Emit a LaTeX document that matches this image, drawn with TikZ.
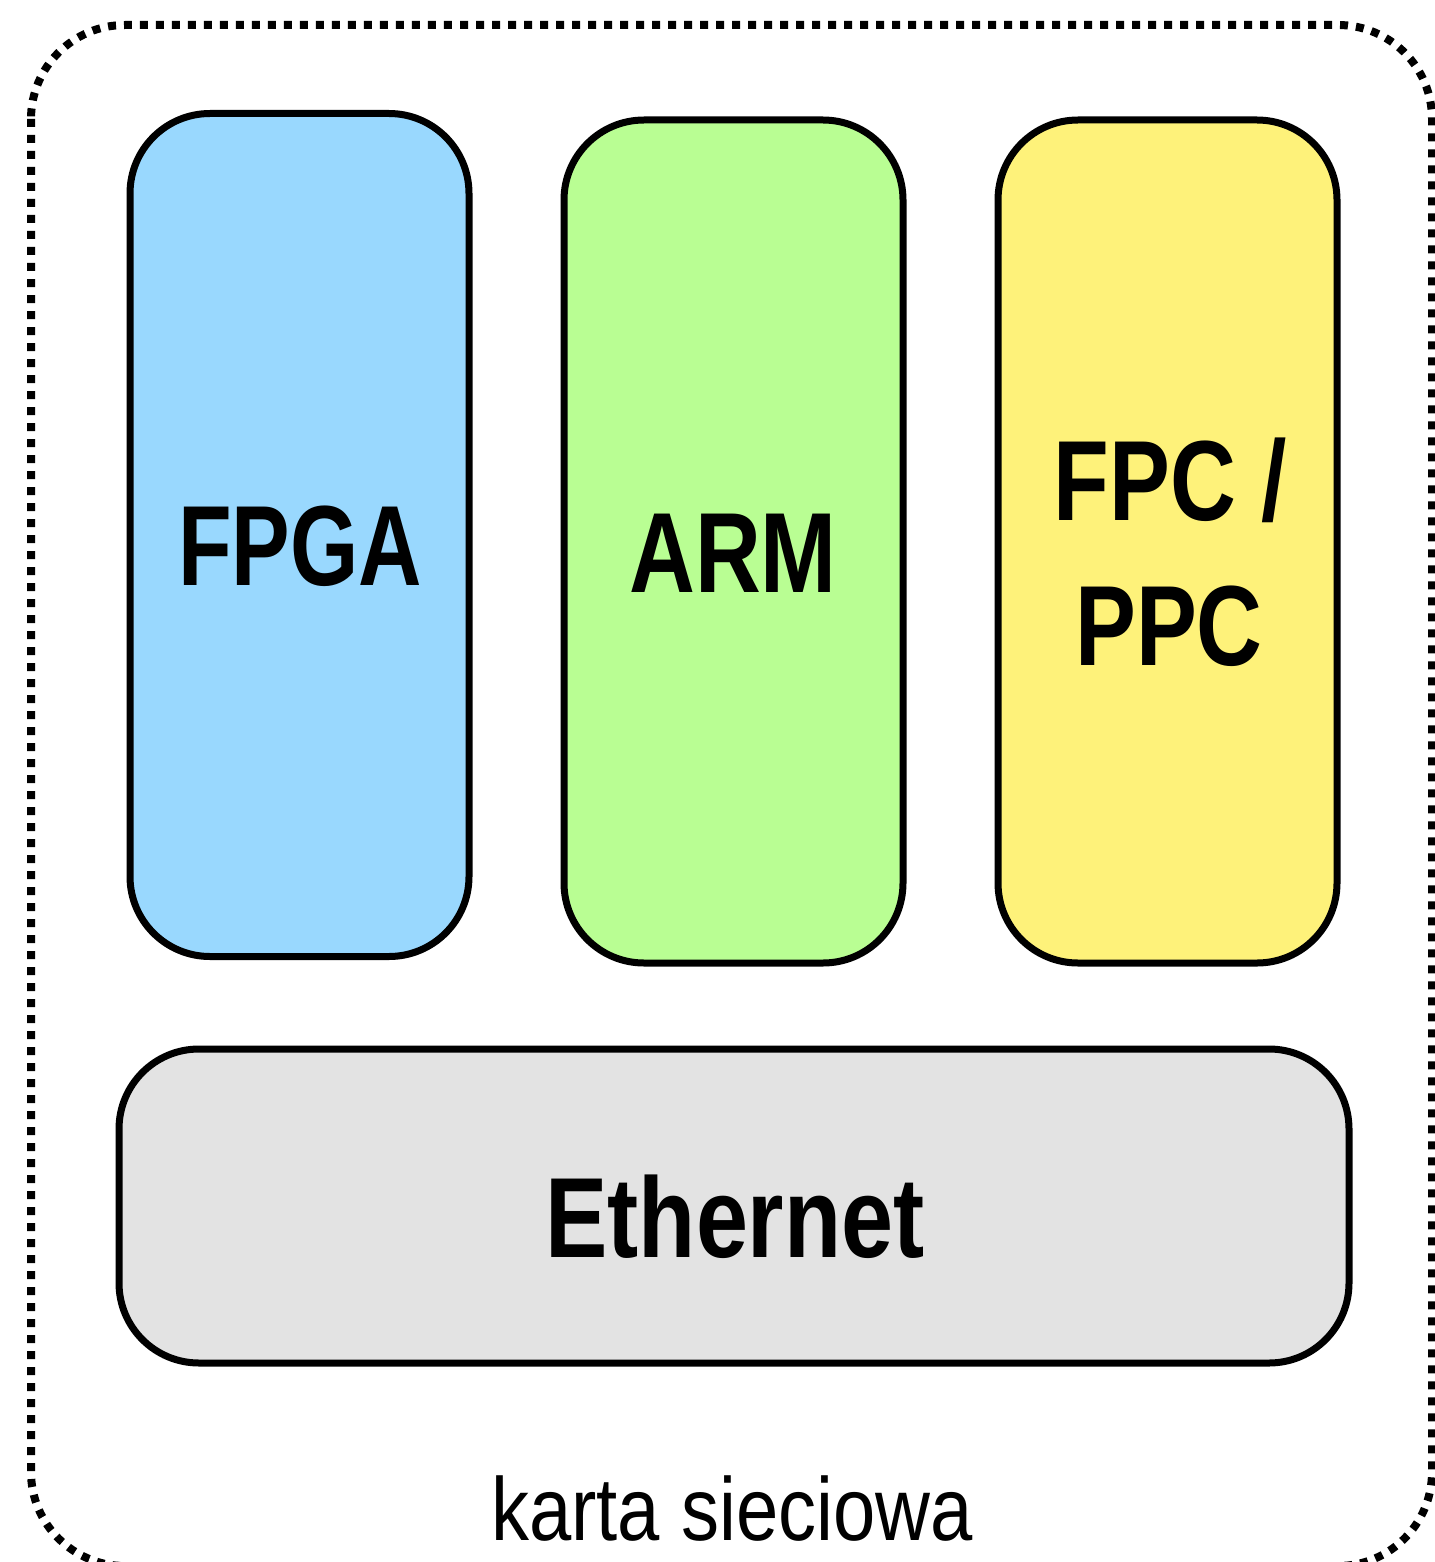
\documentclass[tikz,border=0pt]{standalone}
\usepackage{fontspec}
\setmainfont{Liberation Sans}
\newfontfamily\boldcond[FakeStretch=0.77]{Liberation Sans Bold}
\newfontfamily\boldmid[FakeStretch=0.80]{Liberation Sans Bold}
\newfontfamily\boldwide[FakeStretch=0.82]{Liberation Sans Bold}
\newfontfamily\regcond[FakeStretch=0.85]{Liberation Sans}
\definecolor{fpgacol}{HTML}{99D8FE}
\definecolor{armcol}{HTML}{B9FE93}
\definecolor{fpccol}{HTML}{FEF27A}
\definecolor{ethcol}{HTML}{E3E3E3}
\tikzset{
  unit/.style={draw=black, line width=3.5pt, rounded corners=40pt, inner sep=0pt},
  colbox/.style={unit, minimum width=169.5pt, minimum height=421.5pt},
  bigtxt/.style={font=\boldcond\fontsize{57}{72.5}\selectfont, anchor=base, align=center, inner sep=0pt},
  captxt/.style={font=\regcond\fontsize{44.7}{50}\selectfont, anchor=base, inner sep=0pt},
  frame/.style={draw=black, line width=4pt, dash pattern=on 4pt off 4pt, rounded corners=47pt}
}
\begin{document}
\begin{tikzpicture}[x=0.5pt, y=-0.5pt]
  \useasboundingbox (0,0) rectangle (1434,1562);
  % dotted enclosure of the card
  \draw[frame] (31,25) rectangle (1432,1566);
  % processing units
  \node[colbox, fill=fpgacol] (fpga) at (299.5,535) {};
  \node[colbox, fill=armcol]  (arm)  at (733.5,541.5) {};
  \node[colbox, fill=fpccol]  (fpc)  at (1167.5,541.5) {};
  \node[unit, fill=ethcol, minimum width=615pt, minimum height=157pt] (eth) at (734,1206) {};
  % labels
  \node[bigtxt] (fpgatxt) at (300,585) {FPGA};
  \node[bigtxt, font=\boldmid\fontsize{57}{72.5}\selectfont] (armtxt)  at (733,592) {ARM};
  \node[bigtxt, font=\boldmid\fontsize{57}{72.5}\selectfont] (fpctxt)  at (1170,520) {FPC /};
  \node[bigtxt, font=\boldmid\fontsize{57}{72.5}\selectfont] (ppctxt)  at (1169,665) {PPC};
  \node[bigtxt, font=\boldwide\fontsize{57}{72.5}\selectfont] (ethtxt)  at (735,1257) {Ethernet};
  \node[captxt] (card)    at (732,1540) {karta sieciowa};
\end{tikzpicture}
\end{document}
